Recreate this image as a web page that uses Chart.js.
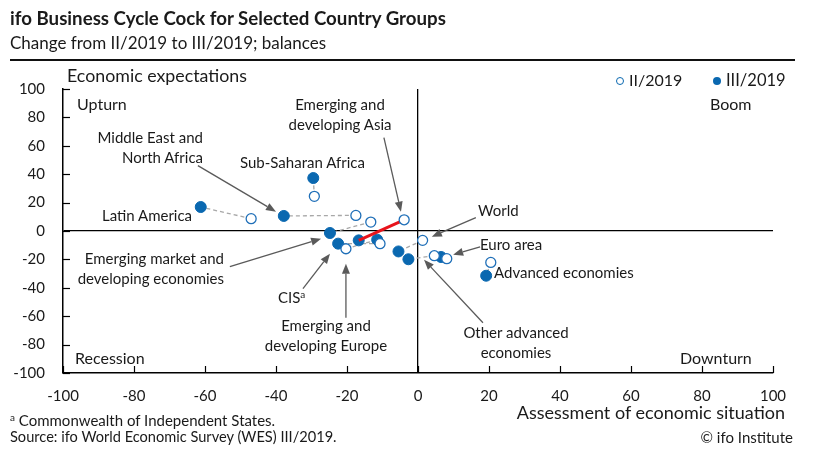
<!DOCTYPE html>
<html lang="en">
<head>
  <meta charset="UTF-8">
  <title>ifo Business Cycle Clock</title>
  <script src="https://cdn.jsdelivr.net/npm/chart.js"></script>
  <style>
    body {
      margin: 0;
      background: #fff;
      font-family: Lato, "Noto Sans", sans-serif;
      color: #1a1a1a;
    }
    #wrap {
      position: relative;
      width: 822px;
      height: 471px;
      overflow: hidden;
    }
    #chart { position: absolute; left: 0; top: 0; }
    .t {
      position: absolute;
      white-space: nowrap;
      font-size: 15px;
      line-height: 20px;
    }
    .c { text-align: center; }
    .r { text-align: right; }
    #title { left: 10px; top: 8px; font-size: 18.7px; font-weight: bold; }
    #subtitle { left: 10px; top: 33px; font-size: 17px; }
    #rule { position: absolute; left: 10px; top: 59px; width: 785px; height: 2px; background: #111; }
    .dot { display: inline-block; width: 8px; height: 8px; border-radius: 50%; margin-right: 5px; vertical-align: 1px; box-sizing: border-box; }
    sup { font-size: 10px; vertical-align: 5px; line-height: 0; }
  </style>
</head>
<body>
<div id="wrap">
  <canvas id="chart" width="822" height="471"></canvas>
  <div id="title" class="t">ifo Business Cycle Cock for Selected Country Groups</div>
  <div id="subtitle" class="t">Change from II/2019 to III/2019; balances</div>
  <div id="rule"></div>

  <div class="t" style="left:67px;top:65px;font-size:17.8px">Economic expectations</div>
  <div class="t" style="left:616px;top:70px;font-size:16px"><span class="dot" style="border:1.5px solid #0a68b0;background:#fff"></span>II/2019</div>
  <div class="t" style="left:713px;top:70px;font-size:16.5px"><span class="dot" style="background:#0a68b0"></span>III/2019</div>

  <div class="t" style="left:77px;top:94px;font-size:16px">Upturn</div>
  <div class="t" style="left:710px;top:94px;font-size:16px">Boom</div>
  <div class="t" style="left:75px;top:348px;font-size:16px">Recession</div>
  <div class="t" style="left:680px;top:348px;font-size:16px">Downturn</div>

  <div class="t c" style="left:280px;top:94px;width:120px">Emerging and<br>developing Asia</div>
  <div class="t r" style="left:60px;top:127px;width:143px">Middle East and<br>North Africa</div>
  <div class="t" style="left:240px;top:152px">Sub-Saharan Africa</div>
  <div class="t" style="left:102px;top:205px">Latin America</div>
  <div class="t" style="left:478px;top:200px">World</div>
  <div class="t" style="left:480px;top:234px">Euro area</div>
  <div class="t" style="left:494px;top:262px">Advanced economies</div>
  <div class="t r" style="left:60px;top:248px;width:164px">Emerging market and<br>developing economies</div>
  <div class="t" style="left:278px;top:287px">CIS<sup>a</sup></div>
  <div class="t c" style="left:256px;top:315px;width:140px">Emerging and<br>developing Europe</div>
  <div class="t c" style="left:456px;top:322px;width:120px">Other advanced<br>economies</div>

  <div class="t r" style="left:440px;top:402px;width:345px;font-size:18px">Assessment of economic situation</div>
  <div class="t" style="left:10px;top:410px;font-size:15px"><sup>a</sup> Commonwealth of Independent States.</div>
  <div class="t" style="left:10px;top:427px;font-size:14.6px">Source: ifo World Economic Survey (WES) III/2019.</div>
  <div class="t r" style="left:643px;top:427px;width:150px;font-size:15px">© ifo Institute</div>
</div>

<script>
  // country groups, II/2019 (hollow) and III/2019 (filled) balances
  const groups = ['Latin America', 'Middle East and North Africa', 'Sub-Saharan Africa',
    'Emerging and developing Asia', 'Emerging market and developing economies', 'CIS',
    'Emerging and developing Europe', 'World', 'Other advanced economies', 'Euro area',
    'Advanced economies'];
  const situationQ2 = [-47.0, -17.5, -29.2, -3.9, -13.3, -10.7, -20.3, 1.3, 4.6, 8.1, 20.5];
  const expectQ2    = [8.7, 11.0, 24.4, 7.9, 6.3, -8.9, -12.5, -6.6, -17.4, -19.5, -22.1];
  const situationQ3 = [-61.2, -37.8, -29.5, -16.7, -24.8, -22.5, -11.5, -5.5, -2.7, 6.5, 19.2];
  const expectQ3    = [16.9, 10.6, 37.3, -6.6, -1.4, -8.9, -6.1, -14.4, -19.9, -18.3, -31.5];
  const highlighted = 'Emerging and developing Asia';

  const tickValues = [-100, -80, -60, -40, -20, 0, 20, 40, 60, 80, 100];

  // label arrows: [fromX, fromY, toX, toY] in chart units
  const arrows = [
    [-9.6, 65.7, -4.8, 13.6],
    [-62.0, 46.0, -40.0, 13.6],
    [-53.0, -25.1, -27.3, -5.4],
    [-32.4, -40.6, -24.8, -16.0],
    [-20.3, -61.1, -20.3, -23.0],
    [16.3, 9.4, 3.9, -4.0],
    [17.5, -11.1, 9.9, -16.7],
    [18.3, -64.6, 1.7, -20.3]
  ];

  const blue = '#0a68b0';
  const font = { family: 'Lato, "Noto Sans", sans-serif', size: 15 };

  const datasets = [];
  groups.forEach((g, i) => {
    const hi = g === highlighted;
    datasets.push({
      type: 'scatter',
      data: [{ x: situationQ2[i], y: expectQ2[i] }, { x: situationQ3[i], y: expectQ3[i] }],
      showLine: true,
      borderColor: hi ? '#e8141c' : '#a8a8a8',
      borderWidth: hi ? 3 : 1.3,
      borderDash: hi ? [] : [4, 3],
      pointRadius: 0,
      order: hi ? 1 : 3
    });
  });
  datasets.push({
    label: 'III/2019',
    data: situationQ3.map((x, i) => ({ x, y: expectQ3[i] })),
    backgroundColor: blue,
    borderColor: blue,
    pointRadius: 5.5,
    order: 2
  });
  datasets.push({
    label: 'II/2019',
    data: situationQ2.map((x, i) => ({ x, y: expectQ2[i] })),
    backgroundColor: '#fff',
    borderColor: '#1f6fb8',
    borderWidth: 1.3,
    pointRadius: 5,
    order: 0
  });

  const extras = {
    id: 'extras',
    afterDraw(chart) {
      const { ctx, chartArea, scales: { x, y } } = chart;
      ctx.save();
      // inward tick marks
      ctx.strokeStyle = '#000';
      ctx.lineWidth = 1.2;
      tickValues.forEach(v => {
        const px = Math.round(x.getPixelForValue(v)) + 0.5;
        ctx.beginPath(); ctx.moveTo(px, chartArea.bottom); ctx.lineTo(px, chartArea.bottom - 7); ctx.stroke();
        const py = Math.round(y.getPixelForValue(v)) + 0.5;
        ctx.beginPath(); ctx.moveTo(chartArea.left, py); ctx.lineTo(chartArea.left + 7, py); ctx.stroke();
      });
      // arrows from labels
      ctx.strokeStyle = '#5a5a5a';
      ctx.fillStyle = '#5a5a5a';
      ctx.lineWidth = 1.3;
      arrows.forEach(a => {
        const x1 = x.getPixelForValue(a[0]), y1 = y.getPixelForValue(a[1]);
        const x2 = x.getPixelForValue(a[2]), y2 = y.getPixelForValue(a[3]);
        const ang = Math.atan2(y2 - y1, x2 - x1);
        const len = 10, w = 4;
        const bx = x2 - len * Math.cos(ang), by = y2 - len * Math.sin(ang);
        ctx.beginPath(); ctx.moveTo(x1, y1); ctx.lineTo(bx, by); ctx.stroke();
        ctx.beginPath();
        ctx.moveTo(x2, y2);
        ctx.lineTo(bx + w * Math.sin(ang), by - w * Math.cos(ang));
        ctx.lineTo(bx - w * Math.sin(ang), by + w * Math.cos(ang));
        ctx.closePath(); ctx.fill();
      });
      ctx.restore();
    }
  };

  new Chart(document.getElementById('chart'), {
    type: 'scatter',
    data: { datasets },
    plugins: [extras],
    options: {
      responsive: false,
      animation: false,
      layout: { padding: { top: 89, right: 49, bottom: 0, left: 0 } },
      plugins: { legend: { display: false }, tooltip: { enabled: false } },
      scales: {
        x: {
          min: -100, max: 100,
          afterFit: s => { s.height = 98; },
          afterBuildTicks: s => { s.ticks = tickValues.map(v => ({ value: v })); },
          border: { color: '#000', width: 1.5 },
          grid: {
            drawTicks: false,
            lineWidth: 1.3,
            color: c => (c.tick && c.tick.value === 0 ? '#000' : 'rgba(0,0,0,0)')
          },
          ticks: { padding: 14, color: '#1a1a1a', font, maxRotation: 0 }
        },
        y: {
          min: -100, max: 100,
          afterFit: s => { s.width = 63; },
          afterBuildTicks: s => { s.ticks = tickValues.map(v => ({ value: v })); },
          border: { color: '#000', width: 1.5 },
          grid: {
            drawTicks: false,
            lineWidth: 1.3,
            color: c => (c.tick && c.tick.value === 0 ? '#000' : 'rgba(0,0,0,0)')
          },
          ticks: { padding: 18, color: '#1a1a1a', font }
        }
      }
    }
  });
</script>
</body>
</html>
